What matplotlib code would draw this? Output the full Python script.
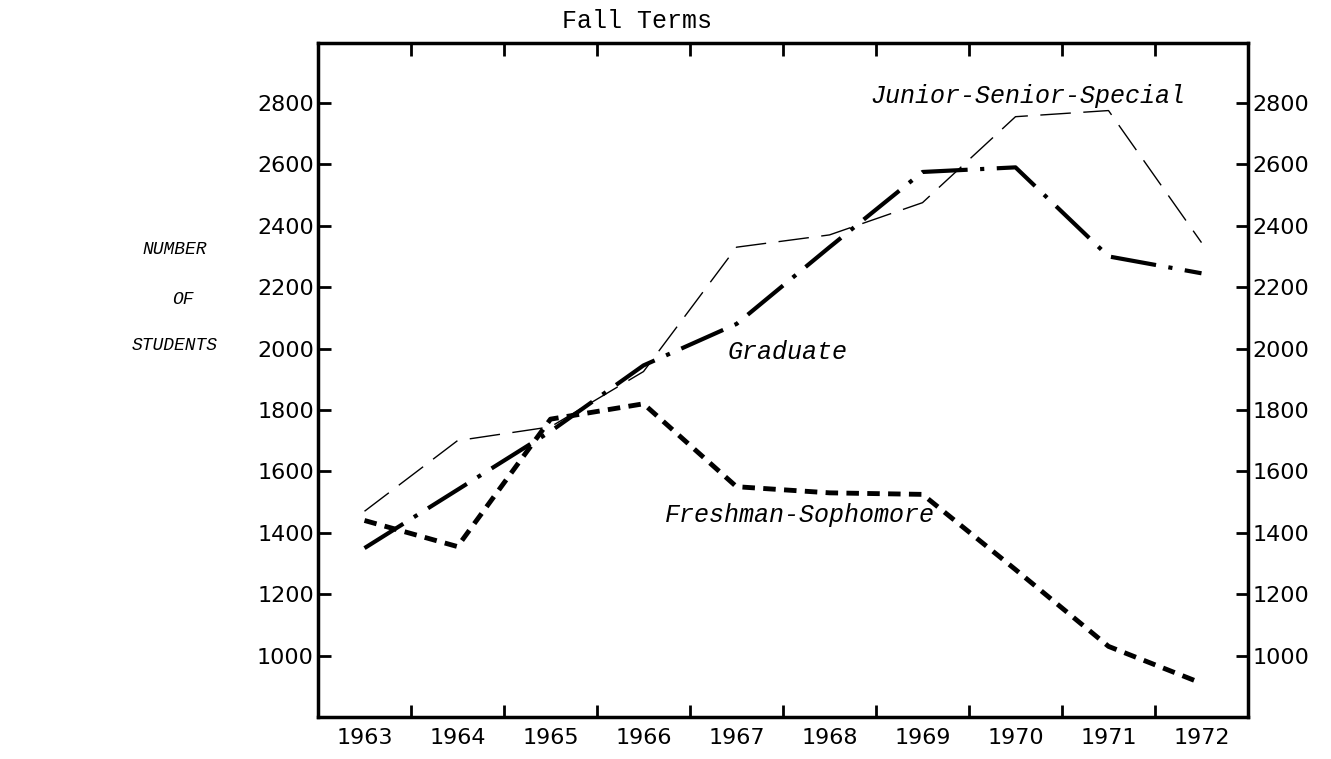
# Enrollment by class level, fall terms 1963-1972

import numpy as np
import matplotlib
matplotlib.use('Agg')
import matplotlib.pyplot as plt

# Data
years = [1963, 1964, 1965, 1966, 1967, 1968, 1969, 1970, 1971, 1972]
junior_senior = [1470, 1700, 1745, 1925, 2330, 2370, 2475, 2755, 2775, 2345]
graduate = [1350, 1540, 1730, 1945, 2080, 2330, 2575, 2590, 2300, 2245]
fresh_soph = [1440, 1355, 1770, 1820, 1550, 1530, 1525, 1280, 1030, 910]
y_ticks = [1000, 1200, 1400, 1600, 1800, 2000, 2200, 2400, 2600, 2800]

plt.rcParams['lines.scale_dashes'] = False
mono = 'Liberation Mono'
W, H = 1331, 759

fig = plt.figure(figsize=(W / 100, H / 100), dpi=100)
ax = fig.add_axes([318 / W, 1 - 717 / H, (1248 - 318) / W, (717 - 43) / H])

ax.plot(years, junior_senior, color='black', lw=1.0, dashes=[22, 9])
ax.plot(years, graduate, color='black', lw=3.0, dashes=[33, 9, 3, 9])
ax.plot(years, fresh_soph, color='black', lw=3.5, dashes=[9, 6])

ax.set_xlim(1962.5, 1972.5)
ax.set_ylim(800, 2995)

# ticks between years, labels centred on the years
ax.set_xticks(np.array(years[:-1]) + 0.5)
ax.set_xticklabels([])
ax.set_xticks(years, minor=True)
ax.set_xticklabels([str(y) for y in years], minor=True, fontsize=16)
ax.tick_params(axis='x', which='minor', length=0, pad=8)
ax.tick_params(axis='x', which='major', direction='in', length=9, width=2,
               top=True, bottom=True)

ax.set_yticks(y_ticks)
ax.set_yticklabels([str(v) for v in y_ticks], fontsize=16)
ax.tick_params(axis='y', direction='in', length=9, width=2,
               left=True, right=True, labelleft=True, labelright=True, pad=3)

for s in ax.spines.values():
    s.set_linewidth(2.5)

# text
fig.text(637 / W, 1 - 21 / H, 'Fall Terms', family=mono, fontsize=18,
         ha='center', va='center')
fig.text(1028 / W, 1 - 96 / H, 'Junior-Senior-Special', family=mono,
         style='italic', fontsize=18, ha='center', va='center')
fig.text(788 / W, 1 - 352 / H, 'Graduate', family=mono, style='italic',
         fontsize=18, ha='center', va='center')
fig.text(800 / W, 1 - 515 / H, 'Freshman-Sophomore', family=mono,
         style='italic', fontsize=18, ha='center', va='center')
fig.text(175 / W, 1 - 250 / H, 'NUMBER', family=mono, style='italic',
         fontsize=13, ha='center', va='center')
fig.text(183 / W, 1 - 300 / H, 'OF', family=mono, style='italic',
         fontsize=13, ha='center', va='center')
fig.text(175 / W, 1 - 345 / H, 'STUDENTS', family=mono, style='italic',
         fontsize=13, ha='center', va='center')

fig.savefig('out.png', dpi=100)
